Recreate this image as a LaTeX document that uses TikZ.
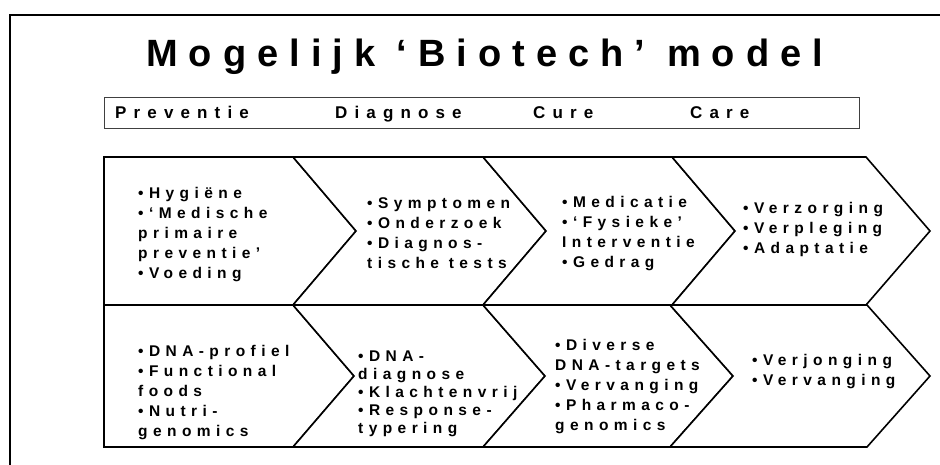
\documentclass[tikz,border=0pt]{standalone}
\usepackage{fontspec}
\setmainfont{Liberation Sans}
\newfontfamily\chevfont[LetterSpace=35]{Liberation Sans Bold}
\newfontfamily\hdrfont[LetterSpace=42]{Liberation Sans Bold}
\newfontfamily\ttlfont[LetterSpace=29]{Liberation Sans Bold}
\begin{document}
\begin{tikzpicture}[x=1pt,y=-1pt,
  chev/.style={draw=black,line width=1.6pt,line join=miter,fill=white},
  ctext/.style={anchor=north west,inner sep=0pt,align=left,
    font=\chevfont\fontsize{15.5}{20}\selectfont},
  hdr/.style={anchor=base west,inner sep=0pt,font=\hdrfont\fontsize{17}{19}\selectfont},
  frame/.style={draw=black,line width=2pt}]
\useasboundingbox (0,0) rectangle (940,465);
% outer frame
\draw[frame] (940,15) -- (10,15) -- (10,465);
% title
\node[anchor=base west,inner sep=0pt,font=\ttlfont\fontsize{38}{42}\selectfont] (title) at (146,67) {Mogelijk ‘Biotech’ model};
% header box
\draw[line width=0.9pt,draw=black!75] (104,97) rectangle (859,128);
\node[hdr] (h1) at (115,119) {Preventie};
\node[hdr] (h2) at (335,119) {Diagnose};
\node[hdr] (h3) at (533,119) {Cure};
\node[hdr] (h4) at (690,119) {Care};
% top row chevrons
\draw[chev] (104,157) -- (293,157) -- (356,231) -- (293,305) -- (104,305) -- cycle;
\draw[chev] (293,157) -- (483,157) -- (546,231) -- (483,305) -- (293,305) -- (356,231) -- cycle;
\draw[chev] (483,157) -- (672,157) -- (735,231) -- (672,305) -- (483,305) -- (546,231) -- cycle;
\draw[chev] (672,157) -- (866,157) -- (930,231) -- (866,305) -- (672,305) -- (735,231) -- cycle;
% bottom row chevrons
\draw[chev] (104,305) -- (293,305) -- (354,376) -- (293,447) -- (104,447) -- cycle;
\draw[chev] (293,305) -- (483,305) -- (545,376) -- (483,447) -- (293,447) -- (354,376) -- cycle;
\draw[chev] (483,305) -- (670,305) -- (733,376) -- (670,447) -- (483,447) -- (545,376) -- cycle;
\draw[chev] (670,305) -- (867,305) -- (930,376) -- (867,447) -- (670,447) -- (733,376) -- cycle;
% texts top row
\node[ctext] (t1) at (138,186) {\rule{0pt}{12pt}•Hygiëne\\•‘Medische\\primaire\\preventie’\\•Voeding};
\node[ctext] (t2) at (367,196) {\rule{0pt}{12pt}•Symptomen\\•Onderzoek\\•Diagnos-\\tische tests};
\node[ctext] (t3) at (562,195) {\rule{0pt}{12pt}•Medicatie\\•‘Fysieke’\\Interventie\\•Gedrag};
\node[ctext] (t4) at (743,201) {\rule{0pt}{12pt}•Verzorging\\•Verpleging\\•Adaptatie};
% texts bottom row
\node[ctext] (b1) at (138,344) {\rule{0pt}{12pt}•DNA-profiel\\•Functional\\foods\\•Nutri-\\genomics};
\node[ctext,font=\chevfont\fontsize{15.5}{18}\selectfont] (b2) at (358,349) {\rule{0pt}{12pt}•DNA-\\diagnose\\•Klachtenvrij\\•Response-\\typering};
\node[ctext] (b3) at (555,338) {\rule{0pt}{12pt}•Diverse\\DNA-targets\\•Vervanging\\•Pharmaco-\\genomics};
\node[ctext] (b4) at (752,353) {\rule{0pt}{12pt}•Verjonging\\•Vervanging};
\end{tikzpicture}
\end{document}
